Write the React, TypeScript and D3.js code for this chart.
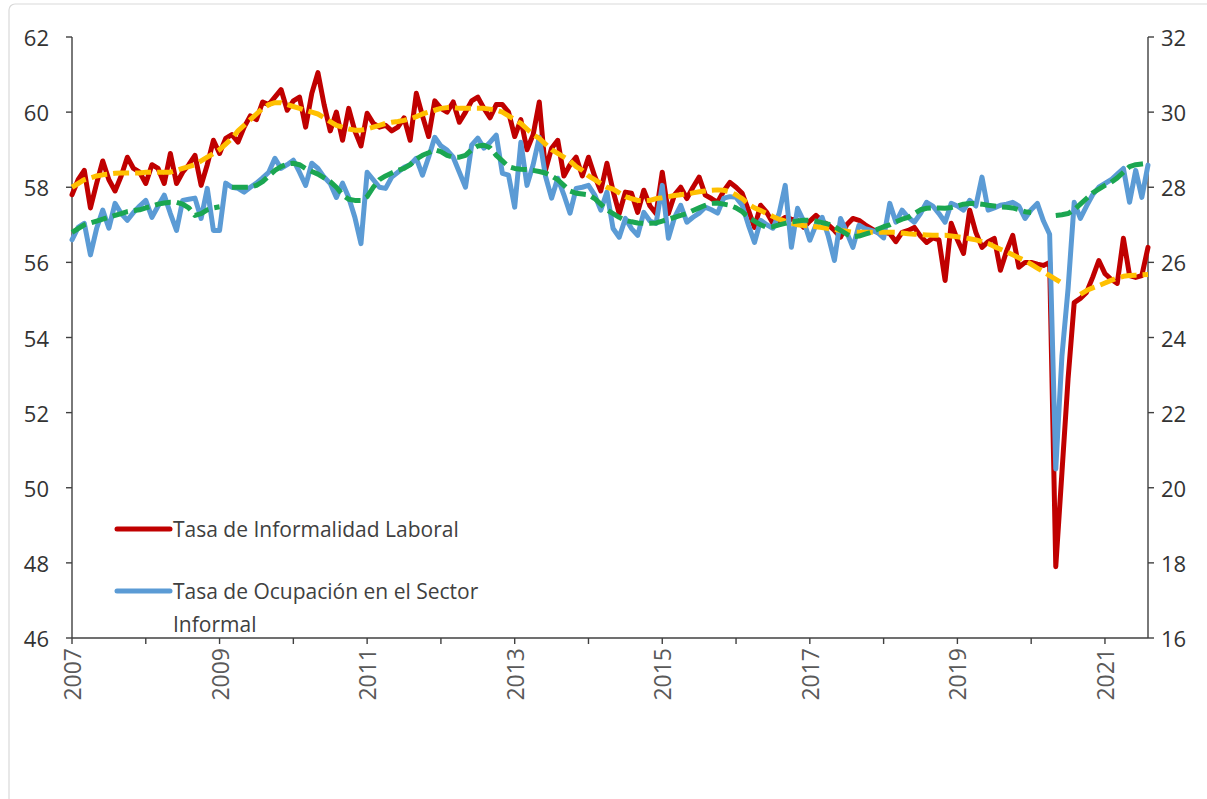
import React from "react";
import * as d3 from "d3";

// Monthly series, Jan 2007 – Aug 2021
const startYear = 2007;
const informalidad: number[] = [
  57.8, 58.2, 58.45, 57.45, 58.1, 58.7, 58.2, 57.9, 58.3, 58.8, 58.5, 58.4,
  58.1, 58.6, 58.5, 58.1, 58.9, 58.1, 58.4, 58.6, 58.85, 58.05, 58.6, 59.25,
  58.9, 59.3, 59.4, 59.2, 59.6, 59.9, 59.8, 60.27, 60.2, 60.4, 60.6, 60.05,
  60.3, 60.4, 59.6, 60.5, 61.05, 60.2, 59.5, 60.0, 59.25, 60.1, 59.5, 59.1,
  59.97, 59.7, 59.6, 59.65, 59.5, 59.6, 59.85, 59.25, 60.5, 59.9, 59.35, 60.3,
  60.1, 60.0, 60.27, 59.73, 60.0, 60.3, 60.4, 60.1, 59.85, 60.2, 60.2, 60.0,
  59.35, 59.8, 59.0, 59.4, 60.27, 58.45, 59.04, 59.25, 58.3, 58.6, 58.8, 58.3,
  58.8, 58.3, 57.9, 58.64, 57.9, 57.3, 57.87, 57.84, 57.33, 57.92, 57.5, 57.3,
  58.4, 57.3, 57.8, 58.0, 57.7, 58.0, 58.27, 57.79, 57.7, 57.6, 57.9, 58.13,
  58.0, 57.84, 57.4, 56.93, 57.52, 57.33, 57.04, 57.1, 57.2, 57.15, 57.12, 56.93,
  57.1, 57.25, 57.1, 57.0, 56.85, 56.67, 57.0, 57.17, 57.12, 57.0, 56.9, 56.8,
  56.8, 56.77, 56.55, 56.8, 56.85, 56.93, 56.7, 56.53, 56.65, 56.6, 55.52, 57.04,
  56.6, 56.24, 57.39, 56.8, 56.4, 56.55, 56.64, 55.79, 56.3, 56.72, 55.87, 56.0,
  56.0, 55.95, 55.92, 56.0, 47.9, 50.4, 52.9, 54.93, 55.04, 55.2, 55.6, 56.05,
  55.7, 55.55, 55.44, 56.64, 55.65, 55.6, 55.65, 56.4,
];
const ocupacion: number[] = [
  26.6, 26.93, 27.04, 26.2, 26.9, 27.39, 26.91, 27.57, 27.3, 27.12, 27.33, 27.5,
  27.65, 27.2, 27.5, 27.79, 27.3, 26.85, 27.65, 27.68, 27.71, 27.17, 27.97, 26.85,
  26.85, 28.11, 28.0, 27.97, 27.87, 28.0, 28.11, 28.25, 28.4, 28.77, 28.5, 28.6,
  28.72, 28.4, 28.05, 28.64, 28.5, 28.27, 28.1, 27.73, 28.11, 27.73, 27.2, 26.5,
  28.4, 28.2, 28.0, 27.97, 28.27, 28.4, 28.53, 28.6, 28.77, 28.32, 28.8, 29.33,
  29.1, 28.99, 28.8, 28.4, 28.0, 29.12, 29.31, 29.04, 29.2, 29.39, 28.37, 28.32,
  27.47, 29.2, 28.05, 28.6, 29.33, 28.3, 27.71, 28.24, 27.8, 27.31, 27.97, 28.0,
  28.05, 27.8, 27.39, 27.87, 26.9, 26.67, 27.17, 26.9, 26.72, 27.33, 27.1, 27.04,
  28.05, 26.64, 27.2, 27.52, 27.07, 27.2, 27.31, 27.47, 27.4, 27.31, 27.71, 27.75,
  27.73, 27.52, 27.0, 26.53, 27.12, 27.0, 26.91, 27.3, 28.05, 26.4, 27.44, 27.1,
  26.59, 27.0, 27.2, 26.7, 26.05, 27.17, 26.8, 26.4, 26.99, 26.9, 26.85, 26.8,
  26.65, 27.57, 27.07, 27.39, 27.2, 27.07, 27.3, 27.6, 27.5, 27.3, 27.07, 27.57,
  27.5, 27.39, 27.65, 27.5, 28.27, 27.39, 27.45, 27.52, 27.55, 27.6, 27.5, 27.17,
  27.4, 27.57, 27.1, 26.75, 20.5, 23.5, 25.3, 27.6, 27.17, 27.5, 27.8, 28.0,
  28.1, 28.2, 28.35, 28.5, 27.6, 28.45, 27.73, 28.59,
];
const tendInformalidad: (number | null)[] = [
  58.0, 58.1, 58.2, 58.25, 58.3, 58.33, 58.35, 58.37, 58.38, 58.38, 58.38, 58.38,
  58.4, 58.4, 58.4, 58.4, 58.4, 58.45, 58.5, 58.55, 58.6, 58.7, 58.8, 58.9,
  59.0, 59.15, 59.3, 59.5, 59.65, 59.8, 59.95, 60.1, 60.2, 60.25, 60.25, 60.2,
  60.15, 60.1, 60.05, 60.0, 59.95, 59.85, 59.75, 59.65, 59.6, 59.55, 59.52, 59.52,
  59.55, 59.6, 59.65, 59.7, 59.73, 59.75, 59.78, 59.82, 59.88, 59.95, 60.0, 60.05,
  60.1, 60.12, 60.12, 60.1, 60.1, 60.1, 60.1, 60.1, 60.08, 60.05, 60.0, 59.9,
  59.8, 59.7, 59.55, 59.4, 59.3, 59.15, 59.0, 58.9, 58.8, 58.7, 58.55, 58.45,
  58.3, 58.2, 58.1, 58.0, 57.95, 57.85, 57.75, 57.7, 57.65, 57.65, 57.65, 57.7,
  57.72, 57.75, 57.78, 57.8, 57.82, 57.85, 57.88, 57.9, 57.92, 57.93, 57.92, 57.88,
  57.8, 57.7, 57.55, 57.45, 57.38, 57.3, 57.22, 57.15, 57.1, 57.05, 57.0, 56.98,
  56.97, 56.95, 56.93, 56.9, 56.88, 56.85, 56.83, 56.8, 56.8, 56.8, 56.8, 56.8,
  56.8, 56.8, 56.8, 56.78, 56.76, 56.75, 56.74, 56.73, 56.72, 56.72, 56.72, 56.7,
  56.68, 56.66, 56.63, 56.6, 56.55, 56.5, 56.42, 56.35, 56.28, 56.2, 56.12, 56.05,
  55.95, 55.85, 55.75, 55.65, 55.55, 55.45, null, null, 55.15, 55.25, 55.32, 55.38,
  55.45, 55.52, 55.58, 55.63, 55.65, 55.66, 55.67, 55.68,
];
const tendOcupacion: (number | null)[] = [
  26.8, 26.9, 27.0, 27.05, 27.1, 27.15, 27.2, 27.25, 27.3, 27.35, 27.38, 27.4,
  27.45, 27.5, 27.55, 27.58, 27.6, 27.6, 27.55, 27.45, 27.25, 27.3, 27.4, 27.45,
  27.48, null, 28.0, 28.0, 28.0, 28.0, 28.05, 28.15, 28.3, 28.45, 28.55, 28.62,
  28.64, 28.6, 28.5, 28.42, 28.35, 28.25, 28.15, 28.0, 27.8, 27.68, 27.65, 27.65,
  27.75, 28.0, 28.2, 28.3, 28.38, 28.45, 28.5, 28.6, 28.75, 28.85, 28.92, 29.0,
  28.95, 28.85, 28.8, 28.8, 28.85, 29.0, 29.1, 29.12, 29.05, 28.85, 28.7, 28.55,
  28.5, 28.48, 28.47, 28.45, 28.42, 28.38, 28.3, 28.2, 28.05, 27.9, 27.84, 27.82,
  27.8, 27.7, 27.55, 27.4, 27.3, 27.2, 27.12, 27.08, 27.05, 27.04, 27.04, 27.05,
  27.1, 27.15, 27.2, 27.25, 27.3, 27.38, 27.45, 27.52, 27.57, 27.58, 27.55, 27.52,
  27.45, 27.35, 27.2, 27.1, 27.0, 26.93, 26.95, 27.0, 27.04, 27.08, 27.1, 27.12,
  27.12, 27.1, 27.06, 27.02, 26.95, 26.85, 26.75, 26.68, 26.7, 26.75, 26.8, 26.88,
  26.95, 27.0, 27.08, 27.15, 27.2, 27.3, 27.4, 27.44, 27.45, 27.45, 27.44, 27.46,
  27.5, 27.55, 27.57, 27.57, 27.55, 27.52, 27.5, 27.48, 27.47, 27.45, 27.4, 27.35,
  27.33, null, null, null, 27.25, 27.27, 27.3, 27.4, 27.55, 27.7, 27.85, 27.95,
  28.05, 28.13, 28.25, 28.4, 28.55, 28.6, 28.62, 28.64,
];
const leftTicks = [46, 48, 50, 52, 54, 56, 58, 60, 62];
const rightTicks = [16, 18, 20, 22, 24, 26, 28, 30, 32];
const yearLabels = ["2007", "2009", "2011", "2013", "2015", "2017", "2019", "2021"];
const legendLabels = [
  ["Tasa de Informalidad Laboral"],
  ["Tasa de Ocupación en el Sector", "Informal"],
];

const RED = "#C00000";
const BLUE = "#5B9BD5";
const YELLOW = "#FFC000";
const GREEN = "#1BA651";
const FONT = "'Open Sans', 'Noto Sans', sans-serif";
const TXT = "#333333";

export default function App() {
  const W = 1207, H = 799;
  const n = informalidad.length;
  const x = d3.scaleLinear().domain([0, n - 1]).range([72, 1148]);
  const yL = d3.scaleLinear().domain([46, 62]).range([638, 37]);
  const yR = d3.scaleLinear().domain([16, 32]).range([638, 37]);

  const lineL = d3.line<number | null>()
    .defined((d) => d != null)
    .x((_, i) => x(i))
    .y((d) => yL(d as number));
  const lineR = d3.line<number | null>()
    .defined((d) => d != null)
    .x((_, i) => x(i))
    .y((d) => yR(d as number));

  const yearTickIdx = d3.range(0, n, 12);

  return (
    <svg width={W} height={H} style={{ position: "absolute", left: 0, top: 0, background: "#fff" }}>
      <rect x={9} y={4} width={1220} height={900} rx={6} fill="#fff" stroke="#d9d9d9" strokeWidth={1.2} />

      {/* axes */}
      <g stroke="#404040" strokeWidth={1.4} fill="none">
        <line x1={72} x2={72} y1={yL(62)} y2={yL(46)} />
        <line x1={1148} x2={1148} y1={yR(32)} y2={yR(16)} />
        <line x1={72} x2={1148} y1={638} y2={638} />
        {leftTicks.map((t) => (
          <line key={"lt" + t} x1={66} x2={72} y1={yL(t)} y2={yL(t)} />
        ))}
        {rightTicks.map((t) => (
          <line key={"rt" + t} x1={1148} x2={1154} y1={yR(t)} y2={yR(t)} />
        ))}
        {yearTickIdx.map((i) => (
          <line key={"xt" + i} x1={x(i)} x2={x(i)} y1={638} y2={644} />
        ))}
      </g>
      <g fontFamily={FONT} fontSize={22} fill={TXT}>
        {leftTicks.map((t) => (
          <text key={"ll" + t} x={49} y={yL(t)} textAnchor="end" dominantBaseline="central">{t}</text>
        ))}
        {rightTicks.map((t) => (
          <text key={"rl" + t} x={1161} y={yR(t)} textAnchor="start" dominantBaseline="central">{t}</text>
        ))}
      </g>
      <g fontFamily={FONT} fontSize={23} fill="#595959">
        {yearLabels.map((lab, k) => {
          const xi = x(k * 24);
          return (
            <text key={"yl" + lab} transform={`translate(${xi},648) rotate(-90)`} textAnchor="end" dominantBaseline="central">{lab}</text>
          );
        })}
      </g>

      {/* series */}
      <path d={lineL(informalidad) || ""} fill="none" stroke={RED} strokeWidth={5} strokeLinejoin="round" strokeLinecap="round" />
      <path d={lineR(ocupacion) || ""} fill="none" stroke={BLUE} strokeWidth={5} strokeLinejoin="round" strokeLinecap="round" />
      <path d={lineL(tendInformalidad) || ""} fill="none" stroke={YELLOW} strokeWidth={5} strokeDasharray="16 6" strokeLinejoin="round" />
      <path d={lineR(tendOcupacion) || ""} fill="none" stroke={GREEN} strokeWidth={5} strokeDasharray="16 6" strokeLinejoin="round" />

      {/* legend */}
      <g fontFamily={FONT} fontSize={21} fill="#404040">
        <line x1={117} x2={170} y1={529} y2={529} stroke={RED} strokeWidth={5} strokeLinecap="round" />
        <text x={173} y={529} dominantBaseline="central">{legendLabels[0][0]}</text>
        <line x1={117} x2={170} y1={591} y2={591} stroke={BLUE} strokeWidth={5} strokeLinecap="round" />
        <text x={173} y={591} dominantBaseline="central">{legendLabels[1][0]}</text>
        <text x={173} y={624} dominantBaseline="central">{legendLabels[1][1]}</text>
      </g>
    </svg>
  );
}
